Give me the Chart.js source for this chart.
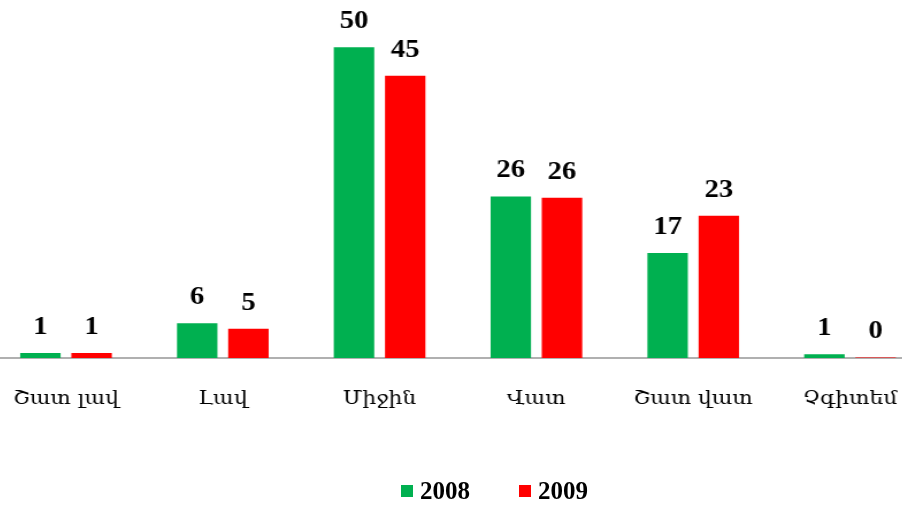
<!DOCTYPE html>
<html>
<head>
<meta charset="utf-8">
<script src="https://cdn.jsdelivr.net/npm/chart.js@4.4.1/dist/chart.umd.min.js"></script>
<style>
  html, body { margin: 0; padding: 0; background: #fff; overflow: hidden; }
  #wrap { position: relative; width: 902px; height: 507px; overflow: hidden; }
  /* the original picture is a bit stretched sideways */
  #myChart { position: absolute; left: -20px; top: 0; transform: scaleX(1.15); transform-origin: 0 0; }
  #legend { position: absolute; left: 401px; top: 477px; display: flex; font: bold 25px "Liberation Serif", serif; color: #000; }
  .item { display: flex; align-items: center; width: 118px; }
  .box { width: 12px; height: 12px; margin-right: 7px; }
</style>
</head>
<body>
<div id="wrap">
  <canvas id="myChart" width="828" height="507"></canvas>
  <div id="legend"></div>
</div>
<script>
const categories = ['Շատ լավ', 'Լավ', 'Միջին', 'Վատ', 'Շատ վատ', 'Չգիտեմ'];
const years = ['2008', '2009'];
const values2008 = [0.8, 5.6, 50, 26, 16.9, 0.6];
const values2009 = [0.8, 4.7, 45.4, 25.8, 22.9, 0.1];
const colors = ['#00B050', '#FF0000'];

// Draw rounded value above each bar
const valueLabels = {
    id: 'valueLabels',
    afterDatasetsDraw(chart) {
        const ctx = chart.ctx;
        ctx.save();
        ctx.font = 'bold 25px "Liberation Serif", serif';
        ctx.fillStyle = '#000';
        ctx.textAlign = 'center';
        ctx.textBaseline = 'alphabetic';
        chart.data.datasets.forEach((ds, i) => {
            chart.getDatasetMeta(i).data.forEach((bar, j) => {
                ctx.fillText(Math.round(ds.data[j]), bar.x, bar.y - 19);
            });
        });
        ctx.restore();
    }
};

const chart = new Chart(document.getElementById('myChart').getContext('2d'), {
    type: 'bar',
    data: {
        labels: categories,
        datasets: [
            { label: years[0], data: values2008, backgroundColor: colors[0] },
            { label: years[1], data: values2009, backgroundColor: colors[1] }
        ]
    },
    options: {
        responsive: false,
        animation: false,
        categoryPercentage: 0.653,
        barPercentage: 0.79,
        layout: { padding: { left: 6.6, right: 3.3, top: 10, bottom: 89 } },
        plugins: {
            legend: { display: false },
            tooltip: { enabled: false }
        },
        scales: {
            x: {
                grid: { display: false, drawTicks: false },
                border: { color: '#b0b0b0', width: 2 },
                ticks: { padding: 30, color: '#000', font: { family: '"DejaVu Serif"', size: 19 } },
                afterFit: scale => {
                    scale.height = 60;
                    // labels may spill past the edges, don't let them squeeze the plot
                    scale.paddingLeft = 0;
                    scale.paddingRight = 0;
                }
            },
            y: { display: false, min: 0, max: 56 }
        }
    },
    plugins: [valueLabels]
});

// Legend built from the datasets
const legend = document.getElementById('legend');
chart.data.datasets.forEach(ds => {
    const item = document.createElement('div');
    item.className = 'item';
    item.innerHTML = `<span class="box" style="background:${ds.backgroundColor}"></span><span>${ds.label}</span>`;
    legend.appendChild(item);
});
</script>
</body>
</html>
